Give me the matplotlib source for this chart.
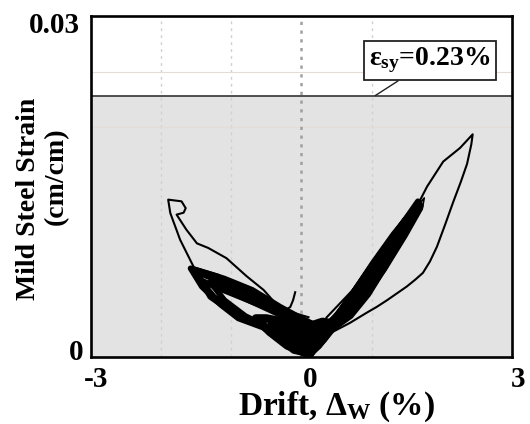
import matplotlib
matplotlib.use("Agg")
import matplotlib.pyplot as plt
from matplotlib.transforms import ScaledTranslation

# ---- data: drift (%) vs mild steel strain (cm/cm) ----
x_ticks = [-3, 0, 3]
x_ticklabels = ["-3", "0", "3"]
y_ticks = [0, 0.03]
y_ticklabels = ["0", "0.03"]
eps_sy = 0.023
eps_label = r"$\varepsilon_{\mathbf{sy}}$=0.23%"

# repeated small/medium cycles (dense band)
cycle1_x = [0.08, 0.25, 0.50, 0.80, 1.10, 1.40, 1.66, 1.70, 1.45, 1.20, 0.95, 0.70, 0.45, 0.20, 0.00,
            -0.30, -0.70, -1.10, -1.58, -1.42, -1.15, -0.90, -0.55, -0.25, 0.08]
cycle1_y = [0.0004, 0.0017, 0.0036, 0.0062, 0.0089, 0.0114, 0.0137, 0.0133, 0.0106, 0.0080, 0.0055, 0.0036, 0.0025, 0.0028, 0.0034,
            0.0044, 0.0059, 0.0069, 0.0078, 0.0062, 0.0046, 0.0034, 0.0026, 0.0015, 0.0004]

cycle2_x = [0.10, 0.30, 0.55, 0.85, 1.15, 1.45, 1.62, 1.58, 1.30, 1.05, 0.80, 0.55, 0.30, 0.05,
            -0.35, -0.75, -1.10, -1.50, -1.30, -1.00, -0.70, -0.40, -0.10, 0.10]
cycle2_y = [0.0005, 0.0020, 0.0040, 0.0066, 0.0093, 0.0118, 0.0132, 0.0124, 0.0097, 0.0072, 0.0049, 0.0032, 0.0024, 0.0032,
            0.0042, 0.0055, 0.0065, 0.0075, 0.0053, 0.0040, 0.0031, 0.0023, 0.0010, 0.0005]

cycle3_x = [0.05, 0.35, 0.60, 0.90, 1.20, 1.48, 1.45, 1.20, 0.95, 0.70, 0.45, 0.15, -0.10,
            -0.45, -0.80, -1.20, -1.52, -1.35, -1.05, -0.75, -0.45, -0.15, 0.05]
cycle3_y = [0.0003, 0.0024, 0.0045, 0.0071, 0.0097, 0.0121, 0.0114, 0.0090, 0.0065, 0.0044, 0.0030, 0.0027, 0.0036,
            0.0047, 0.0060, 0.0071, 0.0077, 0.0058, 0.0042, 0.0032, 0.0025, 0.0012, 0.0003]

cycle4_x = [0.12, 0.40, 0.70, 1.00, 1.30, 1.26, 1.00, 0.75, 0.50, 0.25, 0.00,
            -0.40, -0.80, -1.20, -1.45, -1.25, -0.95, -0.60, -0.30, 0.12]
cycle4_y = [0.0006, 0.0027, 0.0053, 0.0080, 0.0105, 0.0097, 0.0072, 0.0049, 0.0033, 0.0026, 0.0031,
            0.0041, 0.0051, 0.0061, 0.0068, 0.0053, 0.0039, 0.0029, 0.0019, 0.0006]

cycle5_x = [0.10, 0.30, 0.55, 0.80, 1.05, 1.00, 0.75, 0.55, 0.30, 0.05,
            -0.30, -0.65, -1.00, -1.30, -1.10, -0.80, -0.50, -0.20, 0.10]
cycle5_y = [0.0004, 0.0019, 0.0040, 0.0062, 0.0084, 0.0076, 0.0054, 0.0038, 0.0026, 0.0030,
            0.0037, 0.0047, 0.0057, 0.0066, 0.0050, 0.0036, 0.0027, 0.0014, 0.0004]

cycle6_x = [0.08, 0.25, 0.45, 0.60, 0.45, 0.25, 0.00, -0.25, -0.50, -0.65, -0.45, -0.20, 0.08]
cycle6_y = [0.0003, 0.0013, 0.0028, 0.0038, 0.0029, 0.0023, 0.0026, 0.0031, 0.0034, 0.0034, 0.0022, 0.0010, 0.0003]

cycle7_x = [0.12, 0.30, 0.48, 0.35, 0.15, -0.10, -0.30, -0.42, -0.28, -0.10, 0.12]
cycle7_y = [0.0004, 0.0016, 0.0030, 0.0024, 0.0018, 0.0020, 0.0026, 0.0028, 0.0016, 0.0007, 0.0004]

cycle8_x = [0.10, 0.22, 0.33, 0.22, 0.08, -0.06, -0.20, -0.10, 0.10]
cycle8_y = [0.0005, 0.0011, 0.0020, 0.0017, 0.0014, 0.0015, 0.0020, 0.0010, 0.0005]

cycle9_x = [0.12, 0.25, 0.40, 0.30, 0.10, -0.10, -0.30, -0.15, 0.00, 0.12]
cycle9_y = [0.0008, 0.0018, 0.0030, 0.0031, 0.0027, 0.0028, 0.0031, 0.0020, 0.0010, 0.0008]

# largest positive and negative excursions (single thin trace)
big_x = [0.05, 0.36, 0.73, 1.00, 1.29, 1.50, 1.69, 1.79, 2.02, 2.26, 2.44,
         2.42, 2.36, 2.27, 2.16, 2.05, 1.93, 1.83, 1.73, 1.62, 1.50, 1.36, 1.22, 1.07, 0.93, 0.69, 0.41, 0.12,
         -0.16, -0.50, -0.83, -1.11, -1.35, -1.54, -1.73, -1.87, -1.90,
         -1.71, -1.65, -1.68, -1.78, -1.64, -1.49, -1.33, -1.07, -0.78, -0.54, -0.31, -0.12, 0.10]
big_y = [0.0004, 0.0035, 0.0059, 0.0084, 0.0109, 0.0125, 0.0138, 0.0150, 0.0172, 0.0184, 0.0196,
         0.0187, 0.0170, 0.0154, 0.0136, 0.0117, 0.0097, 0.0084, 0.0074, 0.0068, 0.0062, 0.0056, 0.0050, 0.0044, 0.0039, 0.0030, 0.0021, 0.0015,
         0.00223, 0.00267, 0.00326, 0.00444, 0.0062, 0.00797, 0.01032, 0.01267, 0.01385,
         0.0137, 0.0131, 0.0127, 0.01253, 0.0112, 0.0100, 0.0096, 0.0087, 0.0071, 0.0059, 0.0043, 0.0039, 0.0035]

# second large positive cycle (thin, inside the band)
mid_x = [0.20, 0.60, 1.00, 1.40, 1.75, 1.72, 1.50, 1.20, 0.90, 0.60, 0.30]
mid_y = [0.0020, 0.0046, 0.0080, 0.0114, 0.0140, 0.0130, 0.0106, 0.0076, 0.0050, 0.0031, 0.0020]

# final short trace
tail_x = [-0.09, -0.12, -0.16, -0.26, -0.35]
tail_y = [0.0057, 0.0050, 0.0044, 0.0040, 0.0039]

# ---- figure ----
plt.rcParams["font.family"] = ["Liberation Serif", "DejaVu Serif"]
plt.rcParams["font.weight"] = "bold"
plt.rcParams["axes.labelweight"] = "bold"
plt.rcParams["mathtext.fontset"] = "custom"
plt.rcParams["mathtext.rm"] = "Liberation Serif:bold"
plt.rcParams["mathtext.it"] = "Liberation Serif:bold"
plt.rcParams["mathtext.bf"] = "Liberation Serif:bold"

fig = plt.figure(figsize=(5.3, 4.24), dpi=100)
ax = fig.add_axes([0.1717, 0.158, 0.7943, 0.804])
ax.set_xlim(-3, 3)
ax.set_ylim(0, 0.03)

# shaded elastic region up to yield strain
ax.axhspan(0, eps_sy, color="#e3e3e3", zorder=0)
ax.axhline(eps_sy, color="#333333", lw=1.2, zorder=2)

# faint grid
for gx in [-2, -1, 1]:
    ax.axvline(gx, color="#d0d0d0", lw=1.0, ls=(0, (2, 3)), zorder=1)
for gy in [0.0202, 0.0251]:
    ax.axhline(gy, color="#e6dcd6", lw=0.8, zorder=1)
ax.axvline(0, color="#a0a0a0", lw=1.8, ls=(0, (1.3, 2.2)), zorder=1)

# hysteresis traces
dense = [(cycle1_x, cycle1_y, 4.2), (cycle2_x, cycle2_y, 4.2), (cycle3_x, cycle3_y, 4.2),
         (cycle4_x, cycle4_y, 4.2), (cycle5_x, cycle5_y, 4.2), (cycle6_x, cycle6_y, 6.0),
         (cycle7_x, cycle7_y, 7.0), (cycle8_x, cycle8_y, 8.0), (cycle9_x, cycle9_y, 6.0)]
for cx, cy, lw in dense:
    ax.plot(cx, cy, color="black", lw=lw, solid_joinstyle="round", solid_capstyle="round", zorder=3)
ax.plot(mid_x, mid_y, color="black", lw=1.2, zorder=3)
ax.plot(big_x, big_y, color="black", lw=1.5, solid_joinstyle="round", zorder=3)
ax.plot(tail_x, tail_y, color="black", lw=1.5, zorder=3)

# yield annotation
ax.annotate(eps_label, xy=(1.05, eps_sy), xytext=(1.83, 0.0261),
            fontsize=20, ha="center", va="center",
            bbox=dict(boxstyle="square,pad=0.18", fc="white", ec="#222222", lw=1.3),
            arrowprops=dict(arrowstyle="-", color="#222222", lw=1.0, shrinkA=0, shrinkB=0),
            zorder=4)

# axes frame
for s in ax.spines.values():
    s.set_linewidth(1.9)
    s.set_zorder(5)
ax.set_xticks(x_ticks)
ax.set_yticks(y_ticks)
ax.tick_params(length=0, labelbottom=False, labelleft=False)

# tick labels placed at the tick values
def shifted(base, dx, dy):
    return base + ScaledTranslation(dx, dy, fig.dpi_scale_trans)

x_offsets = [0.05, 0.085, 0.06]
for v, lab, dx in zip(x_ticks, x_ticklabels, x_offsets):
    ax.text(v, 0, lab, fontsize=21, ha="center", va="baseline",
            transform=shifted(ax.get_xaxis_transform(), dx, -0.30), clip_on=False)
y_offsets = [(-0.08, -0.03), (-0.11, -0.17)]
for v, lab, (dx, dy) in zip(y_ticks, y_ticklabels, y_offsets):
    ax.text(0, v, lab, fontsize=21, ha="right", va="baseline",
            transform=shifted(ax.get_yaxis_transform(), dx, dy), clip_on=False)

# axis titles
ax.set_xlabel(r"Drift, $\Delta_{\mathbf{W}}$ (%)", fontsize=24)
ax.xaxis.set_label_coords(0.583, -0.170)
ax.xaxis.label.set_va("baseline")
fig.text(29 / 530, 1 - 199 / 424, "Mild Steel Strain", fontsize=20, rotation=90,
         ha="center", va="center")
fig.text(56 / 530, 1 - 176 / 424, "(cm/cm)", fontsize=20, rotation=90,
         ha="center", va="center")

fig.savefig("out.png", dpi=100)
